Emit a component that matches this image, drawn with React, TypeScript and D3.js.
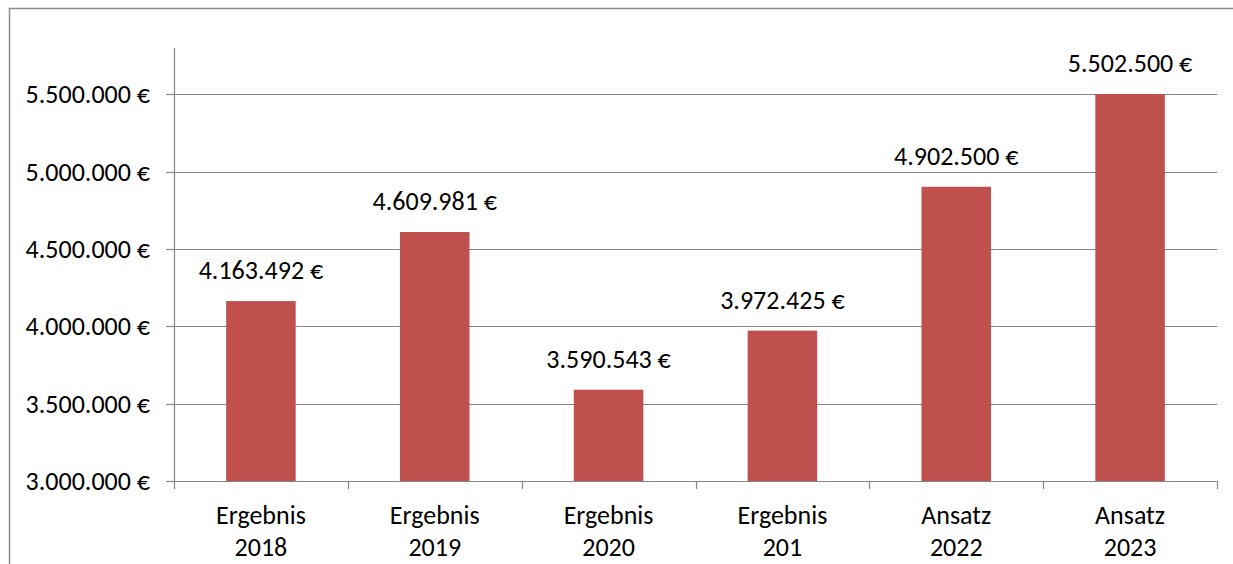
import React from "react";
import * as d3 from "d3";

const categories: string[][] = [
  ["Ergebnis", "2018"],
  ["Ergebnis", "2019"],
  ["Ergebnis", "2020"],
  ["Ergebnis", "201"],
  ["Ansatz", "2022"],
  ["Ansatz", "2023"],
];
const values: number[] = [4163492, 4609981, 3590543, 3972425, 4902500, 5502500];
const yTicks: number[] = [3000000, 3500000, 4000000, 4500000, 5000000, 5500000];

const W = 1233;
const H = 564;
const left = 174;
const right = 1217;
const bottom = 481;
const top = 48;
const font = "Carlito, Calibri, Lato, sans-serif";
const fs = 26;

const fmt = (v: number) => d3.format(",")(v).replace(/,/g, ".") + " €";

export default function App() {
  const x = d3
    .scaleBand<number>()
    .domain(d3.range(categories.length))
    .range([left, right])
    .paddingInner(0)
    .paddingOuter(0);
  const y = d3.scaleLinear().domain([3000000, 5800000]).range([bottom, top]);
  const bw = x.bandwidth() * 0.4;
  const grid = "#868686";
  return (
    <div style={{ position: "fixed", left: 0, top: 0, width: W, height: H, overflow: "hidden", background: "#fff" }}>
      <style>{"html,body{margin:0;overflow:hidden;}"}</style>
      <svg width={W} height={H} style={{ display: "block" }} fontFamily={font}>
        <path d={`M9.5,${H + 5} V8.5 H${W + 5}`} fill="none" stroke="#8c8c8c" strokeWidth={1.5} />
        {yTicks.map((t) => (
          <g key={t}>
            {t > 3000000 && (
              <line x1={left} x2={right} y1={Math.round(y(t)) + 0.5} y2={Math.round(y(t)) + 0.5} stroke={grid} strokeWidth={1.2} />
            )}
            <line x1={left - 8} x2={left} y1={Math.round(y(t)) + 0.5} y2={Math.round(y(t)) + 0.5} stroke={grid} strokeWidth={1.2} />
            <text x={150} y={y(t)} dy="0.35em" textAnchor="end" fontSize={fs} fill="#000">
              {fmt(t)}
            </text>
          </g>
        ))}
        {values.map((v, i) => {
          const cx = (x(i) as number) + x.bandwidth() / 2;
          return (
            <g key={i}>
              <rect x={cx - bw / 2} y={y(v)} width={bw} height={bottom - y(v)} fill="#C0504D" />
              <text x={cx} y={y(v) - 31} dy="0.35em" textAnchor="middle" fontSize={fs} fill="#000">
                {fmt(v)}
              </text>
              <text x={cx} y={515} dy="0.35em" textAnchor="middle" fontSize={fs} fill="#000">
                {categories[i][0]}
              </text>
              <text x={cx} y={547} dy="0.35em" textAnchor="middle" fontSize={fs} fill="#000">
                {categories[i][1]}
              </text>
            </g>
          );
        })}
        <line x1={left + 0.5} x2={left + 0.5} y1={top} y2={bottom} stroke={grid} strokeWidth={1.2} />
        <line x1={left} x2={right} y1={bottom + 0.5} y2={bottom + 0.5} stroke={grid} strokeWidth={1.2} />
        {d3.range(categories.length + 1).map((i) => {
          const xx = Math.round(left + i * x.bandwidth()) + 0.5;
          return <line key={i} x1={xx} x2={xx} y1={bottom} y2={bottom + 8} stroke={grid} strokeWidth={1.2} />;
        })}
      </svg>
    </div>
  );
}
